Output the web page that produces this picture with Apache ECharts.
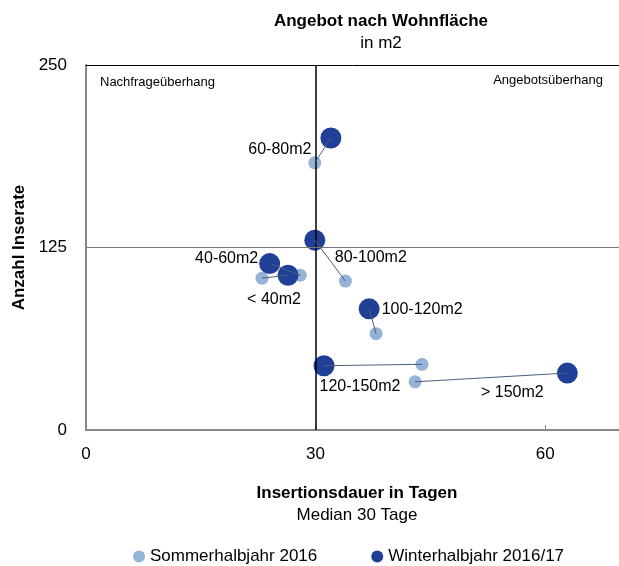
<!DOCTYPE html>
<html><head><meta charset="utf-8">
<script src="https://cdn.jsdelivr.net/npm/echarts@6/dist/echarts.min.js"></script>
<style>html,body{margin:0;padding:0;background:#fff}#c{width:619px;height:566px}</style>
</head><body><div id="c"></div>
<script>
const categories = ['< 40m2','40-60m2','60-80m2','80-100m2','100-120m2','120-150m2','> 150m2'];
const summerX = [23.0, 28.0, 29.9, 33.9, 37.9, 43.9, 43.0];
const summerY = [104, 106, 183, 102, 66, 45, 33];
const winterX = [26.4, 24.0, 32.0, 29.9, 37.0, 31.1, 62.9];
const winterY = [106, 114, 200, 130, 83, 44, 39];
const xTicks = [0, 30, 60];
const yTicks = [0, 125, 250];
const seriesNames = ['Sommerhalbjahr 2016', 'Winterhalbjahr 2016/17'];

const FONT = "'Liberation Sans', Arial, sans-serif";
const labelOffsets = [[-14,24],[-43,-5],[-51,12],[56,17],[53,1],[36,21],[-55,20]];
const cSummer = '#95B3D7', cWinter = '#203F96', cLink = '#4A5E7E';

const chart = echarts.init(document.getElementById('c'));
const lines = categories.map((c,i)=>({
  type:'line', silent:true, z:5, symbol:'none',
  lineStyle:{color:cLink, width:1}, animation:false,
  data:[[summerX[i],summerY[i]],[winterX[i],winterY[i]]]
}));
chart.setOption({
  animation:false,
  textStyle:{fontFamily:FONT},
  title:[
    {text:'Angebot nach Wohnfläche', left:376, top:8, textAlign:'center',
     textStyle:{fontFamily:FONT, fontSize:17, fontWeight:'bold', color:'#000'}},
    {text:'in m2', left:376, top:30, textAlign:'center',
     textStyle:{fontFamily:FONT, fontSize:17, fontWeight:'normal', color:'#000'}},
    {text:'Insertionsdauer in Tagen', left:352, top:480, textAlign:'center',
     textStyle:{fontFamily:FONT, fontSize:17, fontWeight:'bold', color:'#000'}},
    {text:'Median 30 Tage', left:352, top:502, textAlign:'center',
     textStyle:{fontFamily:FONT, fontSize:17, fontWeight:'normal', color:'#000'}},
    {text:'Nachfrageüberhang', left:95, top:71,
     textStyle:{fontFamily:FONT, fontSize:13, fontWeight:'normal', color:'#000'}},
    {text:'Angebotsüberhang', right:11, top:69,
     textStyle:{fontFamily:FONT, fontSize:13, fontWeight:'normal', color:'#000'}}
  ],
  legend:{
    data:seriesNames, left:128, top:543, itemGap:54, itemWidth:12, itemHeight:12,
    icon:'circle', textStyle:{fontFamily:FONT, fontSize:17, color:'#000'}
  },
  grid:{left:86, right:0, top:65, bottom:136, show:false, outerBoundsMode:'none', containLabel:false},
  xAxis:{
    type:'value', min:0, max:69.65, interval:30,
    axisLine:{show:true, lineStyle:{color:'#888', width:2}},
    axisTick:{show:true, inside:true, length:5, lineStyle:{color:'#888'}, customValues:xTicks},
    splitLine:{show:false},
    axisLabel:{fontFamily:FONT, fontSize:17, color:'#000', margin:16, customValues:xTicks,
      formatter:v=>xTicks.includes(v)?String(v):''}
  },
  yAxis:{
    type:'value', min:0, max:250, interval:125,
    name:'Anzahl Inserate', nameLocation:'middle', nameGap:57, nameRotate:90,
    nameTextStyle:{fontFamily:FONT, fontSize:17, fontWeight:'bold', color:'#000'},
    axisLine:{show:true, lineStyle:{color:'#888', width:2}}, axisTick:{show:false}, splitLine:{show:false},
    axisLabel:{fontFamily:FONT, fontSize:17, color:'#000', margin:19,
      formatter:v=>yTicks.includes(v)?String(v):''}
  },
  series:[
    {name:seriesNames[0], type:'scatter', symbolSize:13, z:3,
     itemStyle:{color:cSummer, opacity:1},
     data:summerX.map((x,i)=>[x,summerY[i]]),
     markLine:{silent:true, symbol:'none', label:{show:false},
       data:[
         {xAxis:30, lineStyle:{color:'#000', width:1.5, type:'solid'}},
         {yAxis:125, lineStyle:{color:'#777', width:1, type:'solid'}},
         {yAxis:250, lineStyle:{color:'#000', width:1, type:'solid'}}
       ]}},
    {name:seriesNames[1], type:'scatter', symbolSize:21, z:4,
     itemStyle:{color:cWinter, opacity:1},
     data:winterX.map((x,i)=>({value:[x,winterY[i]],
       label:{show:true, position:'inside', offset:labelOffsets[i], formatter:categories[i],
         fontFamily:FONT, fontSize:16, color:'#000'}}))},
    ...lines
  ]
});
</script></body></html>
